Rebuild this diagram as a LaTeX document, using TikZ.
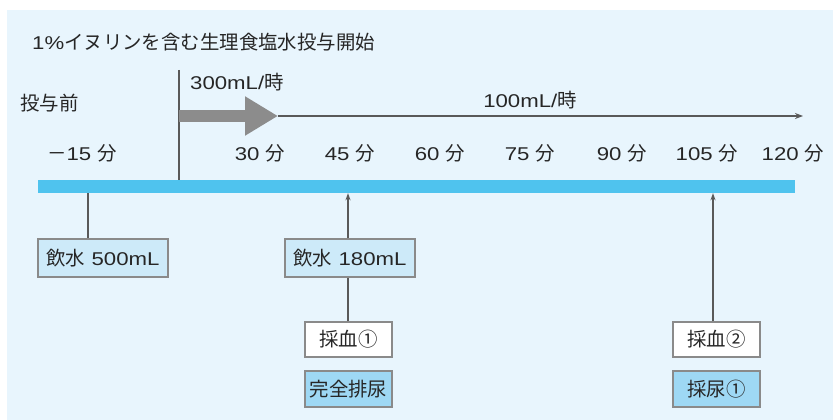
\documentclass[tikz,border=0pt]{standalone}
\usepackage{fontspec}
\setmainfont{Liberation Sans}[FakeStretch=1.2]
\newfontfamily\jfont{Noto Sans CJK JP}[Scale=1.05]
\usetikzlibrary{arrows.meta}
\definecolor{bgblue}{HTML}{E8F5FD}
\definecolor{barblue}{HTML}{4FC3EE}
\definecolor{lightbox}{HTML}{CDEAF9}
\definecolor{darkbox}{HTML}{9ED8F4}
\definecolor{boxline}{HTML}{8A8A8A}
\definecolor{arrowgray}{HTML}{8C8C8C}
\tikzset{
	lbl/.style={font=\fontsize{18.5}{20}\selectfont, inner sep=0pt, text=black!85},
	box/.style={rectangle, draw=boxline, line width=1.3pt, inner sep=0pt, font=\fontsize{18.5}{20}\selectfont, text=black!85},
	link/.style={draw=black!65, line width=1.7pt},
	uparrow/.style={link, -{Stealth[length=7pt,width=5pt]}}
}
\begin{document}
\begin{tikzpicture}[x=1pt, y=-1pt]
	\useasboundingbox (0,0) rectangle (833,420);
	\fill[bgblue] (7,10) rectangle (833,420);

	% labels at the top
	\node (title) [lbl, anchor=west] at (32,42) {1\%{\jfont イヌリンを含む生理食塩水投与開始}};
	\node (before) [lbl, anchor=west] at (20,103) {\jfont 投与前};
	\node (rate1) [lbl, anchor=west] at (190,82) {300mL/{\jfont 時}};
	\node (rate2) [lbl] at (530,100) {100mL/{\jfont 時}};

	% time axis
	\node (bar) [rectangle, fill=barblue, minimum width=757pt, minimum height=13pt, inner sep=0pt] at (416.5,186.5) {};
	\node (tm15) [lbl] at (82,153) {{\jfont －}15 {\jfont 分}};
	\foreach \t/\x in {30/260, 45/350, 60/440, 75/530, 90/622, 105/707, 120/793}
		\node (t\t) [lbl] at (\x,153) {\t\ {\jfont 分}};

	% infusion start and rates
	\coordinate (start) at (179,70);
	\coordinate (split) at (278,116);
	\coordinate (stop) at (803,116);
	\draw[link] (start) -- (start |- bar.north);
	\draw[arrowgray, line width=12pt, -{Triangle[length=33pt,width=37pt]}] (start |- split) -- (split);
	\draw[link, line width=1.4pt, -{Stealth[length=8pt,width=6pt]}] (split) -- (stop);

	% boxes below the axis
	\node (dw1) [box, fill=lightbox, minimum width=130pt, minimum height=38pt] at (103,258) {{\jfont 飲水} 500mL};
	\node (dw2) [box, fill=lightbox, minimum width=130pt, minimum height=38pt] at (350,258) {{\jfont 飲水} 180mL};
	\node (bs1) [box, fill=white, minimum width=87pt, minimum height=35pt] at (348.5,339.5) {\jfont 採血①};
	\node (ur0) [box, fill=darkbox, minimum width=87pt, minimum height=36pt] at (348.5,389) {\jfont 完全排尿};
	\node (bs2) [box, fill=white, minimum width=87pt, minimum height=35pt] at (716.5,339.5) {\jfont 採血②};
	\node (ur1) [box, fill=darkbox, minimum width=87pt, minimum height=36pt] at (716.5,389) {\jfont 採尿①};

	\coordinate (m15) at (88,0);
	\draw[link] (m15 |- bar.south) -- (m15 |- dw1.north);
	\coordinate (m45) at (348,0);
	\draw[link] (m45 |- bs1.north) -- (m45 |- dw2.south);
	\draw[uparrow] (m45 |- dw2.north) -- (m45 |- bar.south);
	\coordinate (m105) at (713,0);
	\draw[uparrow] (m105 |- bs2.north) -- (m105 |- bar.south);
\end{tikzpicture}
\end{document}
